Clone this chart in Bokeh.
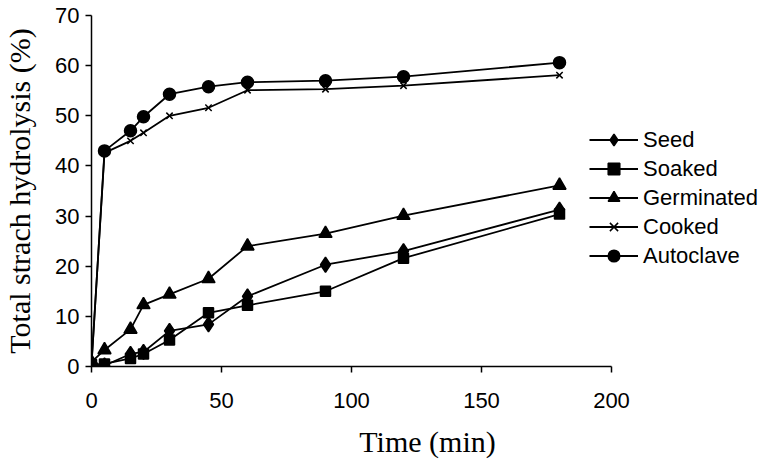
from bokeh.plotting import figure
from bokeh.models import Range1d, Legend, LegendItem, FixedTicker
from bokeh.embed import file_html
from bokeh.resources import INLINE

# ---- data ----
times = [0, 5, 15, 20, 30, 45, 60, 90, 120, 180]
seed = [0.3, 0.2, 2.5, 2.9, 7.1, 8.4, 14.0, 20.3, 23.0, 31.3]
soaked = [0.4, 0.5, 1.6, 2.5, 5.3, 10.7, 12.2, 15.0, 21.6, 30.4]
germinated = [0.9, 3.3, 7.4, 12.3, 14.4, 17.5, 24.0, 26.5, 30.1, 36.1]
cooked = [0.5, 42.6, 45.0, 46.6, 50.0, 51.6, 55.1, 55.3, 56.0, 58.1]
autoclave = [0.2, 43.0, 47.0, 49.8, 54.3, 55.8, 56.7, 57.0, 57.8, 60.6]

series_names = ["Seed", "Soaked", "Germinated", "Cooked", "Autoclave"]
x_ticks = [0, 50, 100, 150, 200]
y_ticks = [0, 10, 20, 30, 40, 50, 60, 70]

# frame: 0..200 over 520px; frame extended to the right to host the legend
FRAME_W = 672
X_END = 200 * FRAME_W / 520.0

p = figure(
    output_backend="svg", toolbar_location=None,
    frame_width=FRAME_W, frame_height=351,
    min_border_left=90, min_border_right=3, min_border_top=15, min_border_bottom=94,
    x_range=Range1d(0, X_END), y_range=Range1d(0, 70),
)
p.outline_line_color = None
p.xgrid.visible = False
p.ygrid.visible = False
p.background_fill_color = "white"
p.border_fill_color = "white"

for ax in (p.xaxis[0], p.yaxis[0]):
    ax.axis_line_color = "black"
    ax.axis_line_width = 1.5
    ax.major_tick_line_color = "black"
    ax.major_tick_line_width = 1.5
    ax.major_tick_out = 6
    ax.major_tick_in = 0
    ax.minor_tick_line_color = None
    ax.major_label_text_font = "Liberation Sans"
    ax.major_label_text_font_size = "22px"
    ax.major_label_text_color = "black"
    ax.axis_label_text_font = "Liberation Serif"
    ax.axis_label_text_font_style = "normal"
    ax.axis_label_text_font_size = "30px"
    ax.axis_label_text_color = "black"

p.xaxis.bounds = (0, 200)
p.xaxis.ticker = FixedTicker(ticks=x_ticks)
p.yaxis.ticker = FixedTicker(ticks=y_ticks)
p.xaxis.axis_label = "Time (min)"
p.yaxis.axis_label = "Total strach hydrolysis (%)"
p.xaxis.major_label_standoff = 20
p.yaxis.major_label_standoff = 6
p.xaxis.axis_label_standoff = 14
p.yaxis.axis_label_standoff = 16

lw = 1.8
items = []
data = [seed, soaked, germinated, cooked, autoclave]
marker_specs = [
    dict(marker="diamond", size=15),
    dict(marker="square", size=10),
    dict(marker="triangle", size=13),
    dict(marker="x", size=9),
    dict(marker="circle", size=12),
]
for name, ys, ms in zip(series_names, data, marker_specs):
    lr = p.line(times, ys, line_color="black", line_width=lw)
    sr = p.scatter(times, ys, marker=ms["marker"], size=ms["size"],
                   fill_color="black", line_color="black", line_width=1.5)
    items.append(LegendItem(label=name, renderers=[lr, sr]))

legend = Legend(items=items, location=(498, 96))
legend.border_line_color = None
legend.background_fill_alpha = 0
legend.padding = 0
legend.margin = 0
legend.spacing = 0
legend.glyph_width = 49
legend.glyph_height = 29
legend.label_height = 29
legend.label_standoff = 5
legend.label_text_font = "Liberation Sans"
legend.label_text_font_size = "22px"
legend.label_text_color = "black"
p.add_layout(legend, "center")

open("out.html", "w").write(file_html(p, INLINE))
